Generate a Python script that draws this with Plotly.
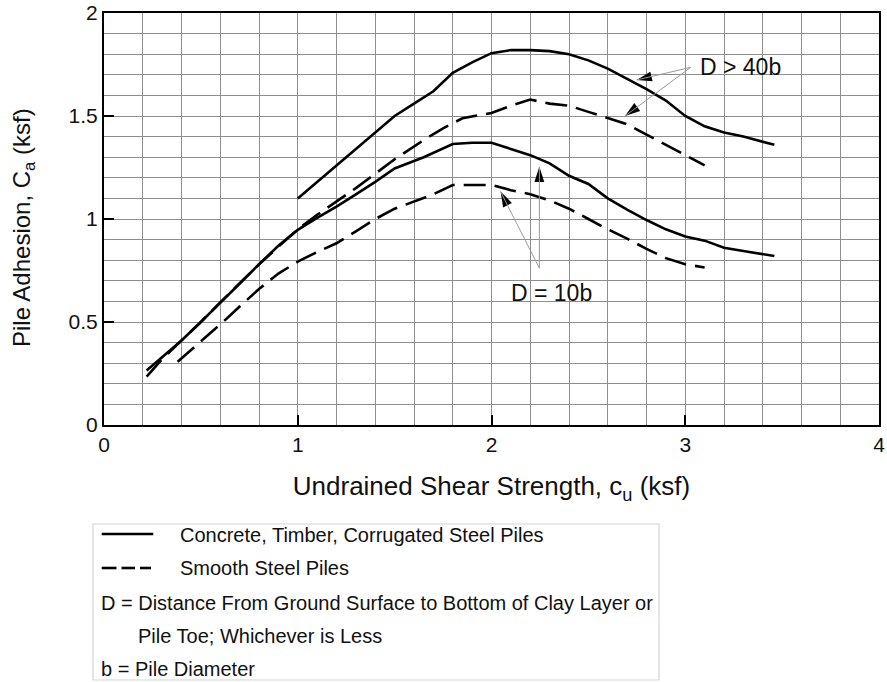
import math
import plotly.graph_objects as go

# ---- Data ----
# Concrete, Timber, Corrugated Steel Piles, D > 40b
x_conc_40 = [1.0, 1.2, 1.4, 1.5, 1.6, 1.7, 1.8, 1.9, 2.0, 2.1, 2.2, 2.3, 2.4, 2.5, 2.6, 2.7, 2.8, 2.9, 3.0, 3.1, 3.2, 3.3, 3.46]
y_conc_40 = [1.10, 1.26, 1.42, 1.50, 1.56, 1.62, 1.71, 1.76, 1.805, 1.82, 1.82, 1.815, 1.80, 1.77, 1.73, 1.68, 1.63, 1.575, 1.50, 1.45, 1.42, 1.40, 1.36]

# Smooth Steel Piles, D > 40b
x_steel_40 = [0.22, 0.3, 0.4, 0.5, 0.6, 0.7, 0.8, 0.9, 1.0, 1.1, 1.2, 1.3, 1.4, 1.5, 1.65, 1.75, 1.85, 2.0, 2.1, 2.2, 2.3, 2.4, 2.5, 2.6, 2.7, 2.8, 2.9, 3.0, 3.1]
y_steel_40 = [0.235, 0.32, 0.41, 0.50, 0.595, 0.69, 0.78, 0.865, 0.95, 1.02, 1.084, 1.15, 1.22, 1.29, 1.383, 1.44, 1.489, 1.515, 1.55, 1.58, 1.56, 1.55, 1.52, 1.49, 1.46, 1.41, 1.36, 1.31, 1.26]

# Concrete, Timber, Corrugated Steel Piles, D = 10b
x_conc_10 = [0.22, 0.3, 0.4, 0.5, 0.6, 0.7, 0.8, 0.9, 1.0, 1.1, 1.2, 1.3, 1.4, 1.5, 1.65, 1.8, 1.9, 2.0, 2.1, 2.2, 2.3, 2.4, 2.5, 2.6, 2.7, 2.8, 2.9, 3.0, 3.1, 3.2, 3.3, 3.46]
y_conc_10 = [0.265, 0.33, 0.41, 0.50, 0.595, 0.69, 0.78, 0.87, 0.947, 1.005, 1.06, 1.12, 1.18, 1.245, 1.30, 1.364, 1.37, 1.37, 1.34, 1.31, 1.27, 1.21, 1.17, 1.10, 1.045, 0.995, 0.95, 0.915, 0.895, 0.86, 0.845, 0.82]

# Smooth Steel Piles, D = 10b
x_steel_10 = [0.38, 0.5, 0.62, 0.7, 0.8, 0.9, 1.0, 1.1, 1.2, 1.3, 1.4, 1.5, 1.6, 1.7, 1.8, 1.9, 2.0, 2.1, 2.2, 2.3, 2.4, 2.5, 2.6, 2.7, 2.8, 2.9, 3.0, 3.1]
y_steel_10 = [0.307, 0.405, 0.505, 0.575, 0.66, 0.735, 0.793, 0.84, 0.882, 0.94, 1.0, 1.05, 1.085, 1.12, 1.165, 1.165, 1.165, 1.14, 1.12, 1.09, 1.05, 1.0, 0.95, 0.905, 0.855, 0.81, 0.78, 0.765]

x_tick_vals = [0, 1, 2, 3, 4]
y_tick_vals = [0, 0.5, 1, 1.5, 2]
y_tick_text = ["0", "0.5", "1", "1.5", "2"]

x_title = "Undrained Shear Strength, c<sub>u</sub> (ksf)"
y_title = "Pile Adhesion, C<sub>a</sub> (ksf)"
legend_lines = [
    "Concrete, Timber, Corrugated Steel Piles",
    "Smooth Steel Piles",
    "D = Distance From Ground Surface to Bottom of Clay Layer or",
    "Pile Toe; Whichever is Less",
    "b = Pile Diameter",
]

FONT = "Liberation Sans, Arial, Helvetica, sans-serif"
TXT = "#111111"

# Layout geometry (pixels)
W, H = 887, 682
ML, MR, MT, MB = 104, 8, 13, 257
PW, PH = W - ML - MR, H - MT - MB
XR, YR = (0, 4), (0, 2)
SX, SY = PW / (XR[1] - XR[0]), PH / (YR[1] - YR[0])


def px(xp):
    return (xp - ML) / PW


def py(yp):
    return (H - MB - yp) / PH


fig = go.Figure()

solid = dict(color="black", width=2.6)
dashed = dict(color="black", width=2.6, dash="22px,9px")

fig.add_trace(go.Scatter(x=x_conc_40, y=y_conc_40, mode="lines", line=solid, showlegend=False, hoverinfo="skip"))
fig.add_trace(go.Scatter(x=x_steel_40, y=y_steel_40, mode="lines", line=dashed, showlegend=False, hoverinfo="skip"))
fig.add_trace(go.Scatter(x=x_conc_10, y=y_conc_10, mode="lines", line=solid, showlegend=False, hoverinfo="skip"))
fig.add_trace(go.Scatter(x=x_steel_10, y=y_steel_10, mode="lines", line=dashed, showlegend=False, hoverinfo="skip"))

shapes = []
annotations = []

# Callout arrows: (tail x, tail y, head x, head y) in data units
callouts = [
    (3.028, 1.736, 2.749, 1.675),
    (3.028, 1.736, 2.689, 1.500),
    (2.247, 0.761, 2.047, 1.133),
    (2.247, 0.761, 2.247, 1.254),
]
head_x, head_y, head_ang = [], [], []
for tx, ty, hx, hy in callouts:
    shapes.append(dict(type="line", xref="x", yref="y", x0=tx, y0=ty, x1=hx, y1=hy,
                       line=dict(color="#9a9a9a", width=1)))
    dxs = (hx - tx) * SX
    dys = -(hy - ty) * SY
    head_x.append(hx)
    head_y.append(hy)
    head_ang.append(math.degrees(math.atan2(dxs, -dys)))

fig.add_trace(go.Scatter(x=head_x, y=head_y, mode="markers", showlegend=False, hoverinfo="skip",
                         marker=dict(symbol="arrow", size=16, angle=head_ang, color="black",
                                     line=dict(width=0))))

annotations.append(dict(x=3.066, y=1.738, xref="x", yref="y", text="D &gt; 40b", showarrow=False,
                        xanchor="left", yanchor="middle", font=dict(family=FONT, size=23, color=TXT)))
annotations.append(dict(x=2.311, y=0.639, xref="x", yref="y", text="D = 10b", showarrow=False,
                        xanchor="center", yanchor="middle", font=dict(family=FONT, size=23, color=TXT)))

# Y axis title (placed as rotated text)
annotations.append(dict(x=px(23), y=py(228), xref="paper", yref="paper", text=y_title, showarrow=False,
                        textangle=-90, xanchor="center", yanchor="middle",
                        font=dict(family=FONT, size=24, color=TXT)))

# Legend box
shapes.append(dict(type="rect", xref="paper", yref="paper", x0=px(93), x1=px(659), y0=py(680), y1=py(524),
                   line=dict(color="#d4d4d4", width=1.2), fillcolor="rgba(0,0,0,0)"))
shapes.append(dict(type="line", xref="paper", yref="paper", x0=px(101.7), x1=px(153.3), y0=py(534), y1=py(534),
                   line=dict(color="black", width=2.6)))
for d0, d1 in [(101.7, 116.5), (121.5, 135.0), (140.0, 151.0)]:
    shapes.append(dict(type="line", xref="paper", yref="paper", x0=px(d0), x1=px(d1), y0=py(568), y1=py(568),
                       line=dict(color="black", width=2.6)))

legend_pos = [(178, 535), (178, 568), (99, 603), (136, 636), (99, 669)]
for txt, (lx, ly) in zip(legend_lines, legend_pos):
    annotations.append(dict(x=px(lx), y=py(ly), xref="paper", yref="paper", text=txt, showarrow=False,
                            xanchor="left", yanchor="middle", font=dict(family=FONT, size=20, color=TXT)))

fig.update_layout(
    width=W, height=H,
    margin=dict(l=ML, r=MR, t=MT, b=MB, pad=0),
    paper_bgcolor="white", plot_bgcolor="white",
    font=dict(family=FONT, color=TXT),
    shapes=shapes, annotations=annotations,
    showlegend=False,
)

grid_color = "#8e8e8e"
fig.update_xaxes(
    range=list(XR), tickmode="array", tickvals=x_tick_vals, ticktext=[str(v) for v in x_tick_vals],
    ticks="inside", ticklen=10, tickwidth=2, tickcolor="black",
    showline=True, linecolor="black", linewidth=2, mirror=True,
    showgrid=True, gridcolor=grid_color, gridwidth=1.3, zeroline=False,
    minor=dict(dtick=0.2, tick0=0, showgrid=True, gridcolor=grid_color, gridwidth=1.3, ticks=""),
    tickfont=dict(family=FONT, size=21, color=TXT),
    title=dict(text=x_title, font=dict(family=FONT, size=26, color=TXT), standoff=22),
    automargin=False,
    fixedrange=True,
)
fig.update_yaxes(
    range=list(YR), tickmode="array", tickvals=y_tick_vals, ticktext=y_tick_text,
    ticks="inside", ticklen=10, tickwidth=2, tickcolor="black",
    showline=True, linecolor="black", linewidth=2, mirror=True,
    showgrid=True, gridcolor=grid_color, gridwidth=1.3, zeroline=False,
    minor=dict(dtick=0.1, tick0=0, showgrid=True, gridcolor=grid_color, gridwidth=1.3, ticks=""),
    tickfont=dict(family=FONT, size=21, color=TXT),
    automargin=False,
    fixedrange=True,
)

fig.write_html("out.html", config={"displayModeBar": False},
               post_script="document.body.style.margin='0';document.body.style.overflow='hidden';")
